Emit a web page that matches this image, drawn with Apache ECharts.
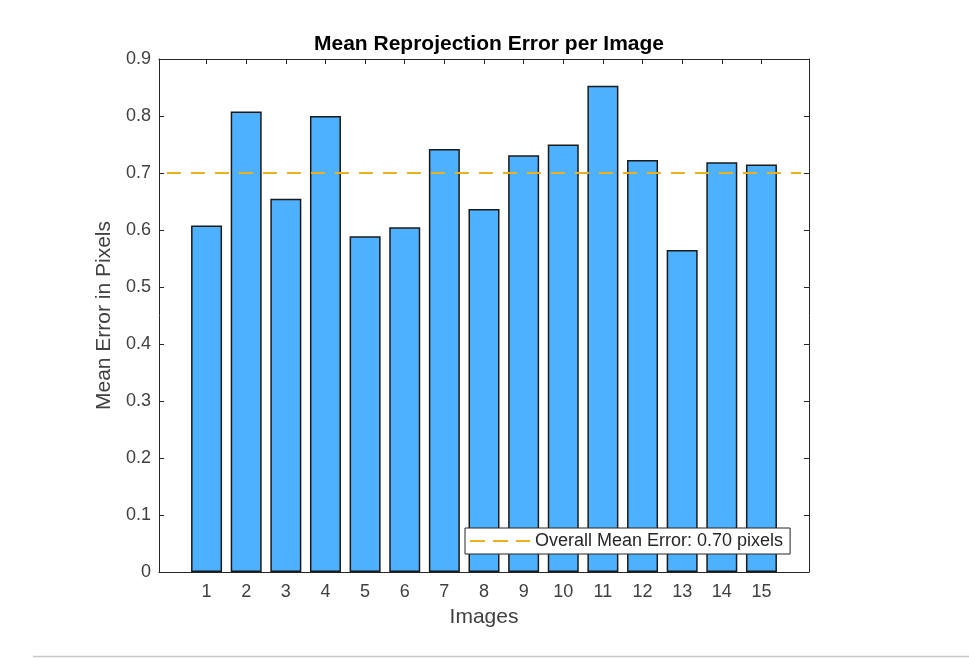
<!DOCTYPE html>
<html>
<head>
<meta charset="utf-8">
<script src="https://cdn.jsdelivr.net/npm/echarts@6/dist/echarts.min.js"></script>
<style>html,body{margin:0;padding:0;background:#fff;}#c{width:969px;height:658px;}</style>
</head>
<body>
<div id="c"></div>
<script>
const categories = [1,2,3,4,5,6,7,8,9,10,11,12,13,14,15];
const meanErrors = [0.608,0.808,0.655,0.800,0.589,0.605,0.742,0.637,0.731,0.750,0.853,0.723,0.565,0.719,0.715];
const overallMean = 0.70;
const titleText = 'Mean Reprojection Error per Image';
const xName = 'Images';
const yName = 'Mean Error in Pixels';
const legendName = 'Overall Mean Error: ' + overallMean.toFixed(2) + ' pixels';

const chart = echarts.init(document.getElementById('c'), null, {renderer:'canvas'});
const axisColor = '#262626';
const labelColor = '#404040';
const font = 'Arial, "Liberation Sans", Helvetica, sans-serif';

const xCommon = {
  type:'value', min:-0.2, max:16.2,
  axisLine:{show:true, onZero:false, lineStyle:{color:axisColor, width:1}},
  axisTick:{show:true, inside:true, length:5, customValues:categories, lineStyle:{color:axisColor}},
  splitLine:{show:false}
};
const yCommon = {
  type:'value', min:0, max:0.9, interval:0.1,
  axisLine:{show:true, onZero:false, lineStyle:{color:axisColor, width:1}},
  axisTick:{show:true, inside:true, length:5, lineStyle:{color:axisColor}},
  splitLine:{show:false}
};

chart.setOption({
  animation:false,
  backgroundColor:'#fff',
  title:{text:titleText, left:484, textAlign:'center', top:29,
    textStyle:{fontFamily:font, fontSize:21, fontWeight:'bold', color:'#000'}},
  grid:{left:159, top:59, right:160, bottom:86, containLabel:false},
  xAxis:[
    Object.assign({}, xCommon, {position:'bottom',
      name:xName, nameLocation:'middle', nameGap:35,
      nameTextStyle:{fontFamily:font, fontSize:21, color:labelColor},
      axisLabel:{show:true, customValues:categories, margin:11, fontFamily:font, fontSize:18, color:labelColor}}),
    Object.assign({}, xCommon, {position:'top', axisLabel:{show:false}})
  ],
  yAxis:[
    Object.assign({}, yCommon, {position:'left',
      name:yName, nameLocation:'middle', nameGap:36, nameRotate:90,
      nameTextStyle:{fontFamily:font, fontSize:21, color:labelColor},
      axisLabel:{show:true, margin:8, fontFamily:font, fontSize:18, color:labelColor,
        formatter:function(v){return String(Math.round(v*10)/10);}}}),
    Object.assign({}, yCommon, {position:'right', axisLabel:{show:false}})
  ],
  legend:{
    show:true, left:465, top:528,
    data:[{name:legendName, icon:'path://M0,0H15V2H0Z M23,0H38V2H23Z M46,0H60V2H46Z'}],
    orient:'horizontal', backgroundColor:'#fff', borderColor:axisColor, borderWidth:1,
    padding:[4,7,4,5], itemWidth:60, itemHeight:2, itemGap:4,
    textStyle:{fontFamily:font, fontSize:18, color:'#262626'}
  },
  series:[
    {
      type:'bar', name:'Errors', xAxisIndex:0, yAxisIndex:0,
      data:categories.map((c,i)=>[c, meanErrors[i]]),
      barWidth:31,
      itemStyle:{color:'#4DB1FF', borderColor:'#1a1a1a', borderWidth:1.5},
      z:2
    },
    {
      type:'line', name:legendName, xAxisIndex:0, yAxisIndex:0,
      data:[[0, overallMean],[16, overallMean]],
      symbol:'none', showSymbol:false,
      lineStyle:{color:'#EDB120', width:1.8, type:[14,10]},
      itemStyle:{color:'#EDB120'},
      z:5
    }
  ],
  graphic:[
    {type:'line', shape:{x1:33, y1:656.5, x2:969, y2:656.5}, style:{stroke:'#c6c6c6', lineWidth:1.5}, silent:true}
  ]
});
</script>
</body>
</html>
